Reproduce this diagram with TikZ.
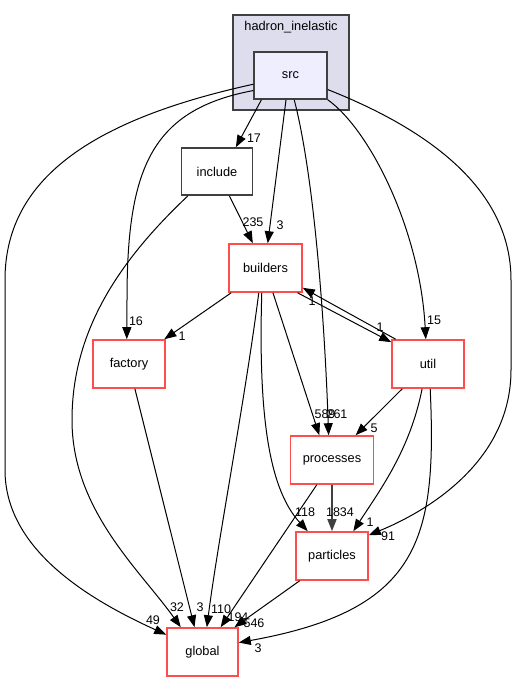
\documentclass[tikz,border=0pt]{standalone}
\usepackage{fontspec}
\setmainfont{Liberation Sans}
\usetikzlibrary{arrows.meta,calc}
\definecolor{redb}{HTML}{FF4D4D}
\definecolor{grayb}{HTML}{404040}
\definecolor{clusterfill}{HTML}{DDDDEE}
\definecolor{srcfill}{HTML}{EEEEFF}
\begin{document}
\begin{tikzpicture}[x=1pt,y=-1pt,
  dirbox/.style={draw=redb,line width=1.6pt,fill=white,minimum width=72pt,minimum height=48pt,inner sep=0pt,font=\fontsize{12.8}{14}\selectfont},
  graybox/.style={draw=grayb,line width=1.6pt,fill=white,minimum width=71pt,minimum height=47pt,inner sep=0pt,font=\fontsize{12.8}{14}\selectfont},
  conn/.style={draw=black,line width=1pt,-{Triangle[length=12pt,width=9pt]}},
  lbl/.style={font=\fontsize{12.5}{13}\selectfont,inner sep=0pt}
]
\useasboundingbox (0,0) rectangle (517,681);
\fill[white] (0,0) rectangle (517,681);
% cluster
\node[draw=grayb,line width=1.3pt,fill=clusterfill,minimum width=116pt,minimum height=95pt,inner sep=0pt] (cluster) at (291,62.5) {};
\node[font=\fontsize{12.8}{14}\selectfont,inner sep=0pt] (ctitle) at (291,27) {hadron\_inelastic};
\node[graybox,fill=srcfill,minimum width=73pt] (src) at (290.5,75.5) {src};
% nodes
\node[graybox] (include) at (217,171.5) {include};
\node[dirbox,minimum width=73pt] (builders) at (265.5,268) {builders};
\node[dirbox] (factory) at (129,364) {factory};
\node[dirbox] (util) at (428,364) {util};
\node[dirbox,minimum width=83pt] (processes) at (332,460) {processes};
\node[dirbox] (particles) at (332,556) {particles};
\node[dirbox,minimum width=71pt] (global) at (202.5,652) {global};
% edges from src
\draw[conn] ($(src.south west)!0.11!(src.south east)$) -- ($(include.north west)!0.76!(include.north east)$);
\draw[conn] ($(src.south west)!0.44!(src.south east)$) -- ($(builders.north west)!0.53!(builders.north east)$);
\draw[conn] ($(src.south west)!0.55!(src.south east)$) .. controls (315,180) and (325,330) .. ($(processes.north west)!0.46!(processes.north east)$);
\draw[conn] (src.south east) .. controls (370,130) and (420,230) .. ($(util.north west)!0.47!(util.north east)$);
\draw[conn] ($(src.north east)!0.79!(src.south east)$) .. controls (430,130) and (511,190) .. (511,280) -- (511,370) .. controls (511,460) and (430,510) .. ($(particles.north east)!0.08!(particles.south east)$);
\draw[conn] ($(src.north west)!0.68!(src.south west)$) .. controls (90,120) and (5,180) .. (5,280) -- (5,470) .. controls (5,550) and (90,600) .. ($(global.north west)!0.15!(global.south west)$);
\draw[conn] ($(src.north west)!0.81!(src.south west)$) .. controls (150,110) and (127,170) .. (127,300) -- ($(factory.north west)!0.47!(factory.north east)$);
% include
\draw[conn] ($(include.south west)!0.67!(include.south east)$) -- ($(builders.north west)!0.33!(builders.north east)$);
\draw[conn] ($(include.south west)!0.1!(include.south east)$) .. controls (120,260) and (72,330) .. (72,420) .. controls (72,510) and (140,570) .. ($(global.north west)!0.2!(global.north east)$);
% factory
\draw[conn] ($(factory.south west)!0.58!(factory.south east)$) -- ($(global.north west)!0.39!(global.north east)$);
% builders
\draw[conn] ($(builders.south west)!0.04!(builders.south east)$) -- ($(factory.north west)!0.98!(factory.north east)$);
\draw[conn] ($(builders.south west)!0.93!(builders.south east)$) -- ($(util.north west)!0.06!(util.south west)$);
\draw[conn] ($(util.north west)!0.06!(util.north east)$) -- ($(builders.north east)!0.9!(builders.south east)$);
\draw[conn] ($(builders.south west)!0.6!(builders.south east)$) -- ($(processes.north west)!0.35!(processes.north east)$);
\draw[conn] ($(builders.south west)!0.45!(builders.south east)$) .. controls (258,420) and (270,490) .. ($(particles.north west)!0.17!(particles.north east)$);
\draw[conn] ($(builders.south west)!0.41!(builders.south east)$) .. controls (245,400) and (218,540) .. ($(global.north west)!0.56!(global.north east)$);
% processes
\draw[conn,draw=grayb,line width=1.6pt] ($(processes.south west)!0.5!(processes.south east)$) -- (particles.north);
\draw[conn] ($(processes.south west)!0.32!(processes.south east)$) -- ($(global.north west)!0.75!(global.north east)$);
% particles
\draw[conn] ($(particles.south west)!0.06!(particles.south east)$) -- ($(global.north west)!0.94!(global.north east)$);
% util
\draw[conn] ($(util.south west)!0.15!(util.south east)$) -- ($(processes.north west)!0.78!(processes.north east)$);
\draw[conn] ($(util.south west)!0.42!(util.south east)$) .. controls (410,450) and (380,490) .. ($(particles.north west)!0.79!(particles.north east)$);
\draw[conn] ($(util.south west)!0.53!(util.south east)$) .. controls (437,540) and (420,610) .. ($(global.north east)!0.31!(global.south east)$);
% labels
\node[lbl] (l1) at (254,138) {17};
\node[lbl] (l2) at (280,225) {3};
\node[lbl] (l3) at (136,321) {16};
\node[lbl] (l4) at (153,620) {49};
\node[lbl] (l5) at (337,414) {261};
\node[lbl] (l6) at (434,320) {15};
\node[lbl] (l7) at (388,536) {91};
\node[lbl] (l8) at (253,222) {235};
\node[lbl] (l9) at (177,607) {32};
\node[lbl] (l10) at (200,607) {3};
\node[lbl] (l11) at (182,336) {1};
\node[lbl] (l12) at (380,327) {1};
\node[lbl] (l13) at (312,301) {1};
\node[lbl] (l14) at (325,414) {589};
\node[lbl] (l15) at (305,512) {118};
\node[lbl] (l16) at (221,609) {110};
\node[lbl] (l17) at (340,512) {1834};
\node[lbl] (l18) at (238,617) {194};
\node[lbl] (l19) at (254,623) {546};
\node[lbl] (l20) at (374,428) {5};
\node[lbl] (l21) at (370,522) {1};
\node[lbl] (l22) at (258,648) {3};
\end{tikzpicture}
\end{document}
